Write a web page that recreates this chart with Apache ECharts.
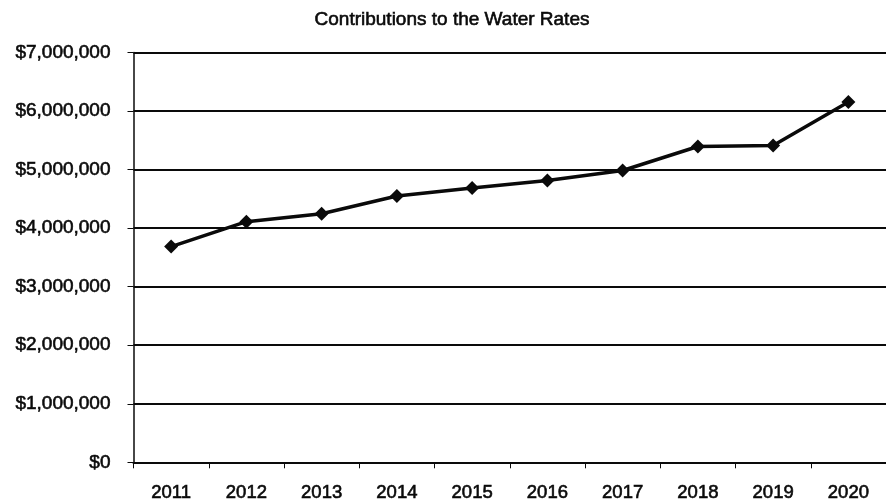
<!DOCTYPE html>
<html>
<head>
<meta charset="utf-8">
<title>Contributions to the Water Rates</title>
<script src="https://cdn.jsdelivr.net/npm/echarts@6/dist/echarts.min.js"></script>
<style>
  html, body { margin: 0; padding: 0; background: #fff; }
  #chart { width: 886px; height: 503px; }
</style>
</head>
<body>
<div id="chart"></div>
<script>
// Yearly contributions (USD)
const years = ['2011', '2012', '2013', '2014', '2015', '2016', '2017', '2018', '2019', '2020'];
const contributions = [3685000, 4110000, 4245000, 4550000, 4685000, 4815000, 4985000, 5395000, 5410000, 6155000];
const chartTitle = 'Contributions to the Water Rates';

function formatDollars(v) {
  return '$' + Math.round(v).toString().replace(/\B(?=(\d{3})+(?!\d))/g, ',');
}

const ink = '#0a0a0a';
const fontFamily = '"Liberation Sans", Arial, sans-serif';
// a thin outline in the text colour gives the glyphs a slightly heavier stroke
const heavy = { textBorderColor: ink, textBorderWidth: 0.6 };

const chart = echarts.init(document.getElementById('chart'), null, { renderer: 'canvas' });
chart.setOption({
  animation: false,
  backgroundColor: '#fff',
  title: {
    text: chartTitle,
    left: 447,
    top: 5,
    textAlign: 'center',
    textStyle: Object.assign({ fontFamily, fontSize: 19, fontWeight: 'normal', color: ink }, heavy)
  },
  grid: { left: 133.5, right: -1.5, top: 52.5, bottom: 40.7, containLabel: false },
  xAxis: {
    type: 'category',
    data: years,
    boundaryGap: true,
    axisLine: { show: true, lineStyle: { color: ink, width: 2 } },
    axisTick: { show: true, length: 6, lineStyle: { color: ink, width: 1 } },
    axisLabel: Object.assign({ color: ink, fontFamily, fontSize: 18.5, margin: 21 }, heavy),
    splitLine: { show: false }
  },
  yAxis: {
    type: 'value',
    min: 0,
    max: 7000000,
    interval: 1000000,
    axisLine: { show: true, lineStyle: { color: ink, width: 1.5 } },
    axisTick: { show: true, length: 6, lineStyle: { color: ink, width: 1 } },
    axisLabel: Object.assign({ color: ink, fontFamily, fontSize: 19, margin: 23, formatter: formatDollars }, heavy),
    splitLine: { show: true, lineStyle: { color: ink, width: 2 } }
  },
  series: [{
    type: 'line',
    data: contributions,
    symbol: 'diamond',
    symbolSize: 14,
    lineStyle: { color: ink, width: 3.5 },
    itemStyle: { color: ink },
    label: { show: false }
  }]
});
</script>
</body>
</html>
